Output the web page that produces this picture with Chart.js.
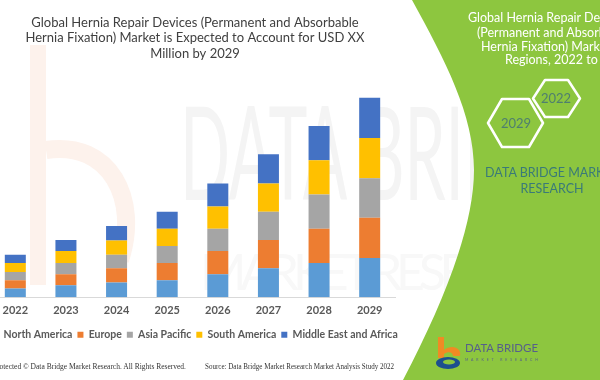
<!DOCTYPE html>
<html><head><meta charset="utf-8">
<script src="https://cdn.jsdelivr.net/npm/chart.js@4.4.0/dist/chart.umd.min.js"></script>
<style>
html,body{margin:0;padding:0;}
body{width:600px;height:380px;overflow:hidden;position:relative;background:#fff;font-family:Lato,sans-serif;}
svg{position:absolute;left:0;top:0;}
#wrap{position:absolute;left:-20px;top:0;width:430px;height:350px;}
</style></head><body>
<svg id="wm" width="600" height="380">
  <rect x="30" y="45" width="16" height="240" fill="#fdf2ec"/>
  <path d="M46,150 C110,140 140,200 120,260" stroke="#fdf2ec" stroke-width="18" fill="none"/>
  <text x="180" y="200" font-family="Lato" font-size="130" fill="#f4f4f4" textLength="420" lengthAdjust="spacingAndGlyphs">DATA BRIDGE</text>
  <text x="200" y="290" font-family="Lato" font-size="50" fill="#f8f8f8" textLength="380" lengthAdjust="spacing">MARKET RESEARCH</text>
</svg>
<div id="wrap"><canvas id="c"></canvas></div>
<svg id="panel" width="600" height="380">
  <path d="M412,0 C445,60 474,115 474,170 C474,225 445,300 403,380 L600,380 L600,0 Z" fill="#8dc63f"/>
  <g font-family="Lato" font-size="12.5" fill="#ffffff">
    <text x="468" y="22">Global Hernia Repair Devices</text>
    <text x="477" y="37">(Permanent and Absorbable</text>
    <text x="481" y="51">Hernia Fixation) Market, By</text>
    <text x="505" y="64">Regions, 2022 to 2029</text>
  </g>
  <polygon points="488,123 502,99 529,99 543,123 529,147 502,147" fill="none" stroke="#ffffff" stroke-width="2.5" stroke-linejoin="round"/>
  <polygon points="533,98.5 545,80 568,80 580,98.5 568,117 545,117" fill="none" stroke="#ffffff" stroke-width="2.5" stroke-linejoin="round"/>
  <g font-family="Lato" font-size="13" fill="#4f7f6e" text-anchor="middle">
    <text x="516" y="128">2029</text>
    <text x="556" y="103">2022</text>
  </g>
  <g font-family="Lato" font-size="12.5" fill="#3a7a78" text-anchor="middle">
    <text x="552" y="177">DATA BRIDGE MARKET</text>
    <text x="552" y="193">RESEARCH</text>
  </g>
  <path d="M438,337 L444,337 L444,350 C452,344 462,348 460,356 L453,356 C453,352 448,351 444,354 L444,358 L438,358 Z" fill="#f08a24"/>
  <ellipse cx="448" cy="363" rx="12" ry="6" fill="#1c4f8f"/>
  <ellipse cx="449" cy="362" rx="6" ry="2.5" fill="#8dc63f"/>
  <text x="465" y="352" font-family="Lato" font-size="12" fill="#56608a" textLength="73" lengthAdjust="spacingAndGlyphs">DATA BRIDGE</text>
  <text x="465" y="361" font-family="Lato" font-size="3.5" fill="#56608a" textLength="73" lengthAdjust="spacing">MARKET RESEARCH</text>
  <g font-family="Liberation Serif" font-size="7.5" fill="#333333">
    <text x="186" y="369" text-anchor="end">Data Protected © Data Bridge Market Research. All Rights Reserved.</text>
    <text x="205" y="369" textLength="189" lengthAdjust="spacingAndGlyphs">Source: Data Bridge Market Research Market Analysis Study 2022</text>
  </g>
</svg>
<script>
const years = ['2022','2023','2024','2025','2026','2027','2028','2029'];
const northAmerica     = [1.55, 2.10, 2.60, 3.00, 4.05, 5.10, 6.00, 6.90];
const europe           = [1.45, 1.95, 2.50, 3.00, 4.05, 4.95, 6.00, 7.05];
const asiaPacific      = [1.45, 1.95, 2.35, 3.00, 3.90, 4.95, 6.00, 6.90];
const southAmerica     = [1.55, 2.10, 2.50, 3.00, 3.90, 4.95, 6.00, 7.05];
const middleEastAfrica = [1.45, 1.95, 2.55, 3.00, 4.05, 5.10, 6.00, 7.05];
const seriesNames = ['North America','Europe','Asia Pacific','South America','Middle East and Africa'];
const titleLines = ['Global Hernia Repair Devices (Permanent and Absorbable',
                    'Hernia Fixation) Market is Expected to Account for USD XX',
                    'Million by 2029'];

const seriesData = [northAmerica, europe, asiaPacific, southAmerica, middleEastAfrica];
const seriesColors = ['#5b9bd5','#ed7d31','#a5a5a5','#ffc000','#4472c4'];

new Chart(document.getElementById('c'), {
  type: 'bar',
  data: {
    labels: years,
    datasets: seriesNames.map((n, i) => ({
      label: n, data: seriesData[i], backgroundColor: seriesColors[i],
      borderWidth: 0, barPercentage: 0.415, categoryPercentage: 1
    }))
  },
  options: {
    responsive: true, maintainAspectRatio: false, animation: false,
    layout: { padding: 0 },
    plugins: {
      title: { display: true, text: titleLines, color: '#404040',
               font: { family: 'Lato', size: 13, weight: 'normal', lineHeight: 1.18 },
               padding: { top: 15, bottom: 8 } },
      legend: { position: 'bottom',
                labels: { boxWidth: 6, boxHeight: 6, padding: 5, color: '#595959',
                          font: { family: 'Lato', size: 10.5, weight: 'bold' } } },
      tooltip: { enabled: false }
    },
    scales: {
      x: { stacked: true, grid: { display: false, drawTicks: false },
           border: { display: true, color: '#d9d9d9' },
           ticks: { color: '#595959', font: { family: 'Lato', size: 11, weight: 'bold' }, padding: 7 } },
      y: { stacked: true, display: true, position: 'left', min: 0, max: 40,
           grid: { display: false }, border: { display: false }, ticks: { display: false },
           afterFit: s => { s.width = 10; } },
      yR: { display: true, position: 'right', grid: { display: false }, border: { display: false },
            ticks: { display: false }, afterFit: s => { s.width = 15; } }
    }
  }
});
</script>
</body></html>
